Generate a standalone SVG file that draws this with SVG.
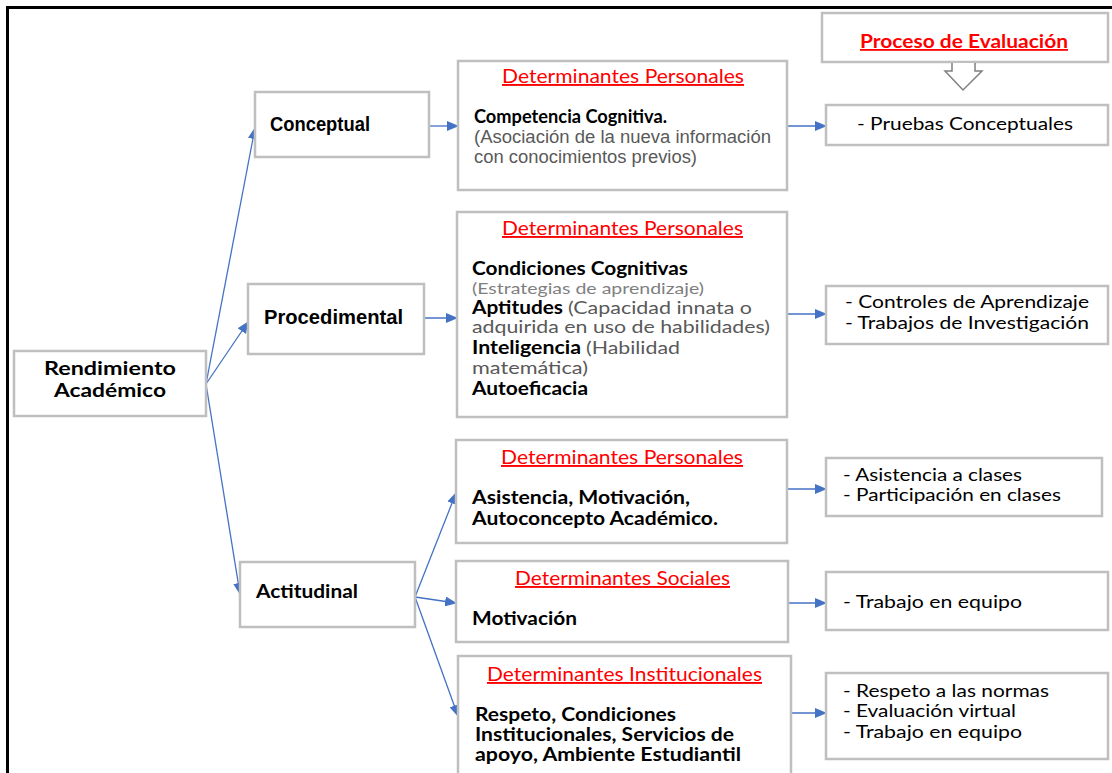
<svg xmlns="http://www.w3.org/2000/svg" width="1112" height="773" viewBox="0 0 1112 773">
<defs>
<marker id="ah" markerWidth="12" markerHeight="10" refX="11" refY="5" orient="auto" markerUnits="userSpaceOnUse">
<path d="M0,0 L12,5 L0,10 Z" fill="#4472c4"/>
</marker>
<style>
.box{fill:#fff;stroke:#bfbfbf;stroke-width:2.5}
.c{fill:none;stroke:#4472c4;stroke-width:1.3;marker-end:url(#ah)}
.ab{font-family:"Liberation Sans",Arial,sans-serif;font-weight:bold;font-size:20px;fill:#000}
.cb{font-family:Lato,"Liberation Sans",sans-serif;font-weight:bold;font-size:18px;fill:#000}
.cr{font-family:Lato,"Liberation Sans",sans-serif;font-size:18px;fill:#000}
.hd{font-family:Lato,"Liberation Sans",sans-serif;font-size:19px;fill:#ff0000;text-decoration:underline}
.g1{font-family:"Liberation Sans",Arial,sans-serif;font-size:17.5px;fill:#595959}
.g2{font-family:Lato,"Liberation Sans",sans-serif;font-size:15px;fill:#7f7f7f}
.g3{font-family:Lato,"Liberation Sans",sans-serif;font-size:17px;fill:#595959}
</style>
</defs>
<rect width="1112" height="773" fill="#fff"/>
<path d="M7.5,773 V7.5 H1112" fill="none" stroke="#000" stroke-width="3"/>

<g id="connectors">
<path class="c" d="M206,384 L255,128"/>
<path class="c" d="M206,384 L248,322"/>
<path class="c" d="M206,384 L240,594"/>
<path class="c" d="M429,126 L458,126"/>
<path class="c" d="M424,318 L457,318"/>
<path class="c" d="M415,597 L456,493"/>
<path class="c" d="M415,597 L456,603"/>
<path class="c" d="M415,597 L458,716"/>
<path class="c" d="M787,126 L826,126"/>
<path class="c" d="M787,314 L826,314"/>
<path class="c" d="M787,489 L826,489"/>
<path class="c" d="M788,603 L826,603"/>
<path class="c" d="M791,713 L826,713"/>
</g>

<g id="rendimiento">
<rect class="box" x="14" y="351" width="192" height="65"/>
<text class="cb" x="110" y="375" font-size="19" text-anchor="middle" textLength="132" lengthAdjust="spacingAndGlyphs">Rendimiento</text>
<text class="cb" x="110" y="397" font-size="19" text-anchor="middle" textLength="112" lengthAdjust="spacingAndGlyphs">Académico</text>
</g>

<g id="conceptual">
<rect class="box" x="255" y="92" width="174" height="65"/>
<text class="ab" x="270" y="131" textLength="100" lengthAdjust="spacingAndGlyphs">Conceptual</text>
</g>

<g id="procedimental">
<rect class="box" x="248" y="284" width="176" height="70"/>
<text class="ab" x="264" y="324" font-size="21" textLength="139" lengthAdjust="spacingAndGlyphs">Procedimental</text>
</g>

<g id="actitudinal">
<rect class="box" x="240" y="562" width="175" height="65"/>
<text class="cb" x="256" y="598" font-size="19" textLength="102" lengthAdjust="spacingAndGlyphs">Actitudinal</text>
</g>

<g id="dp1">
<rect class="box" x="458" y="61" width="329" height="129"/>
<text class="hd" x="502" y="83" textLength="242" lengthAdjust="spacingAndGlyphs">Determinantes Personales</text>
<text class="cb" x="474" y="123" textLength="193" lengthAdjust="spacingAndGlyphs">Competencia Cognitiva.</text>
<text class="g1" x="474" y="143" textLength="297" lengthAdjust="spacingAndGlyphs">(Asociación de la nueva información</text>
<text class="g1" x="474" y="163" textLength="223" lengthAdjust="spacingAndGlyphs">con conocimientos previos)</text>
</g>

<g id="dp2">
<rect class="box" x="457" y="212" width="330" height="205"/>
<text class="hd" x="502" y="235" textLength="241" lengthAdjust="spacingAndGlyphs">Determinantes Personales</text>
<text class="cb" x="472" y="275" textLength="216" lengthAdjust="spacingAndGlyphs">Condiciones Cognitivas</text>
<text class="g2" x="472" y="293.5" textLength="232" lengthAdjust="spacingAndGlyphs">(Estrategias de aprendizaje)</text>
<text class="cb" x="472" y="314" textLength="91" lengthAdjust="spacingAndGlyphs">Aptitudes</text>
<text class="g3" x="568" y="314" textLength="184" lengthAdjust="spacingAndGlyphs">(Capacidad innata o</text>
<text class="g3" x="472" y="333" textLength="298" lengthAdjust="spacingAndGlyphs">adquirida en uso de habilidades)</text>
<text class="cb" x="472" y="354" textLength="109" lengthAdjust="spacingAndGlyphs">Inteligencia</text>
<text class="g3" x="586" y="354" textLength="94" lengthAdjust="spacingAndGlyphs">(Habilidad</text>
<text class="g3" x="472" y="373.5" font-size="15.5" textLength="116" lengthAdjust="spacingAndGlyphs">matemática)</text>
<text class="cb" x="472" y="395" font-size="17.5" textLength="116" lengthAdjust="spacingAndGlyphs">Autoeficacia</text>
</g>

<g id="dp3">
<rect class="box" x="456" y="440" width="331" height="103"/>
<text class="hd" x="501" y="464" textLength="242" lengthAdjust="spacingAndGlyphs">Determinantes Personales</text>
<text class="cb" x="472" y="504" textLength="218" lengthAdjust="spacingAndGlyphs">Asistencia, Motivación,</text>
<text class="cb" x="472" y="525" textLength="246" lengthAdjust="spacingAndGlyphs">Autoconcepto Académico.</text>
</g>

<g id="ds">
<rect class="box" x="456" y="561" width="332" height="81"/>
<text class="hd" x="515" y="585" textLength="215" lengthAdjust="spacingAndGlyphs">Determinantes Sociales</text>
<text class="cb" x="472" y="625" textLength="105" lengthAdjust="spacingAndGlyphs">Motivación</text>
</g>

<g id="di">
<rect class="box" x="458" y="656" width="333" height="130"/>
<text class="hd" x="487" y="681" textLength="275" lengthAdjust="spacingAndGlyphs">Determinantes Institucionales</text>
<text class="cb" x="475" y="721" textLength="201" lengthAdjust="spacingAndGlyphs">Respeto, Condiciones</text>
<text class="cb" x="475" y="741" textLength="259" lengthAdjust="spacingAndGlyphs">Institucionales, Servicios de</text>
<text class="cb" x="475" y="761" textLength="266" lengthAdjust="spacingAndGlyphs">apoyo, Ambiente Estudiantil</text>
</g>

<g id="proceso">
<rect class="box" x="822" y="13" width="286" height="49"/>
<text class="cb" x="860" y="48" style="fill:#ff0000;text-decoration:underline" font-size="20" textLength="208" lengthAdjust="spacingAndGlyphs">Proceso de Evaluación</text>
<path d="M952,63 V71 H945 L963,90 L982,71 H975 V63" fill="#fff" stroke="#7f7f7f" stroke-width="1.5"/>
</g>

<g id="pruebas">
<rect class="box" x="826" y="105" width="282" height="40"/>
<text class="cr" x="857" y="130" font-size="19" textLength="216" lengthAdjust="spacingAndGlyphs">- Pruebas Conceptuales</text>
</g>

<g id="controles">
<rect class="box" x="826" y="286" width="282" height="58"/>
<text class="cr" x="845" y="308" textLength="244" lengthAdjust="spacingAndGlyphs">- Controles de Aprendizaje</text>
<text class="cr" x="845" y="329" textLength="244" lengthAdjust="spacingAndGlyphs">- Trabajos de Investigación</text>
</g>

<g id="asistencia">
<rect class="box" x="826" y="458" width="276" height="58"/>
<text class="cr" x="843" y="481" textLength="179" lengthAdjust="spacingAndGlyphs">- Asistencia a clases</text>
<text class="cr" x="843" y="501" textLength="218" lengthAdjust="spacingAndGlyphs">- Participación en clases</text>
</g>

<g id="trabajo">
<rect class="box" x="826" y="572" width="282" height="58"/>
<text class="cr" x="843" y="608" font-size="19" textLength="179" lengthAdjust="spacingAndGlyphs">- Trabajo en equipo</text>
</g>

<g id="respeto">
<rect class="box" x="826" y="673" width="282" height="86"/>
<text class="cr" x="843" y="697" textLength="206" lengthAdjust="spacingAndGlyphs">- Respeto a las normas</text>
<text class="cr" x="843" y="717" textLength="173" lengthAdjust="spacingAndGlyphs">- Evaluación virtual</text>
<text class="cr" x="843" y="738" textLength="179" lengthAdjust="spacingAndGlyphs">- Trabajo en equipo</text>
</g>
</svg>
